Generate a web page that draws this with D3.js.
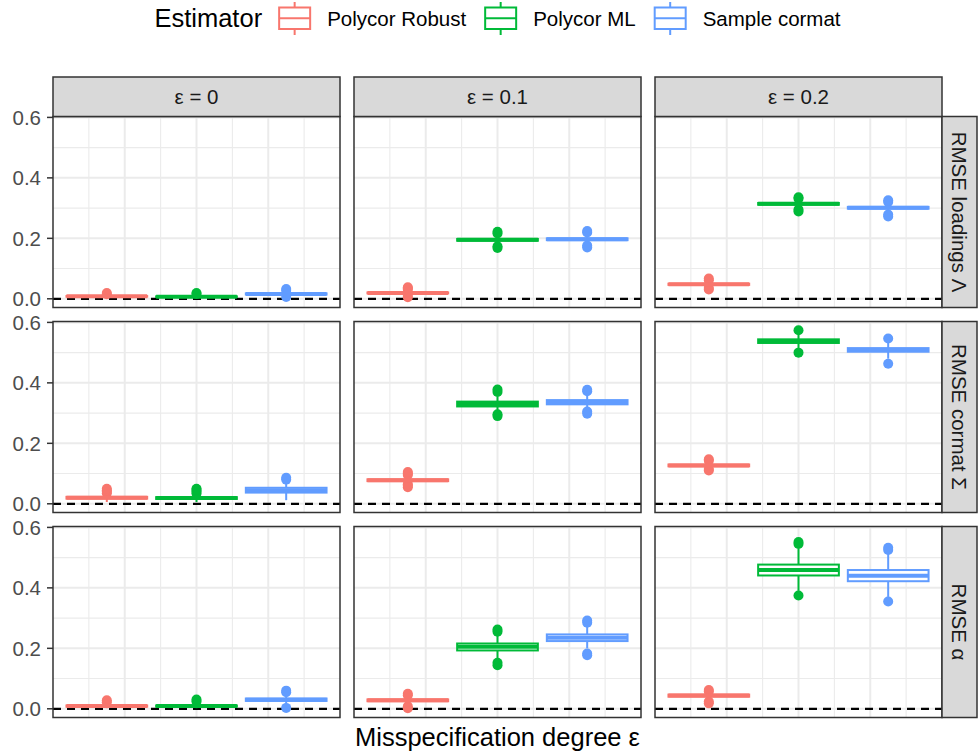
<!DOCTYPE html>
<html>
<head>
<meta charset="utf-8">
<script src="https://cdn.jsdelivr.net/npm/d3@7"></script>
<style>
  body { margin: 0; background: #fff; }
  text { font-family: "Liberation Sans", Arial, Helvetica, sans-serif; }
</style>
</head>
<body>
<svg id="chart" width="979" height="755"></svg>
<script>
// categories
const estimators = ["Polycor Robust", "Polycor ML", "Sample cormat"];
const estColors = ["#F8766D", "#00BA38", "#619CFF"];
const epsLabels = ["ε = 0", "ε = 0.1", "ε = 0.2"];
const measureLabels = ["RMSE loadings Λ", "RMSE cormat Σ", "RMSE α"];
const yTicks = [0, 0.2, 0.4, 0.6];
const yMinor = [0.1, 0.3, 0.5];

// box stats [lowWhisker, q1, median, q3, highWhisker], indexed [eps][estimator]
const loadingsStats = [
  [[0.004, 0.007, 0.008, 0.009, 0.012], [0.004, 0.006, 0.007, 0.008, 0.011], [0.010, 0.014, 0.016, 0.018, 0.022]],
  [[0.012, 0.018, 0.019, 0.021, 0.027], [0.184, 0.192, 0.195, 0.198, 0.206], [0.187, 0.194, 0.197, 0.200, 0.208]],
  [[0.040, 0.046, 0.048, 0.050, 0.056], [0.302, 0.311, 0.314, 0.317, 0.325], [0.288, 0.298, 0.301, 0.304, 0.313]]
];
const loadingsOutliers = [
  [[0.015, 0.019], [0.016, 0.019], [0.006, 0.027, 0.032]],
  [[0.005, 0.009, 0.030, 0.035, 0.038], [0.168, 0.174, 0.216, 0.222], [0.170, 0.176, 0.219, 0.224]],
  [[0.031, 0.036, 0.061, 0.067], [0.289, 0.295, 0.331, 0.336], [0.272, 0.279, 0.320, 0.326]]
];

const cormatStats = [
  [[0.006, 0.017, 0.020, 0.023, 0.030], [0.006, 0.016, 0.019, 0.022, 0.029], [0.012, 0.037, 0.045, 0.053, 0.068]],
  [[0.068, 0.075, 0.078, 0.081, 0.090], [0.305, 0.322, 0.330, 0.338, 0.355], [0.315, 0.329, 0.336, 0.343, 0.360]],
  [[0.118, 0.124, 0.127, 0.130, 0.137], [0.515, 0.532, 0.538, 0.544, 0.560], [0.480, 0.503, 0.509, 0.515, 0.535]]
];
const cormatOutliers = [
  [[0.035, 0.040, 0.045, 0.050], [0.034, 0.040, 0.046, 0.050], [0.080, 0.086]],
  [[0.055, 0.060, 0.065, 0.095, 0.100, 0.105], [0.290, 0.296, 0.370, 0.378], [0.298, 0.305, 0.372, 0.377]],
  [[0.110, 0.115, 0.142, 0.147], [0.500, 0.574], [0.463, 0.547]]
];

const alphaStats = [
  [[0.002, 0.007, 0.009, 0.011, 0.016], [0.002, 0.007, 0.009, 0.011, 0.016], [0.012, 0.026, 0.030, 0.034, 0.045]],
  [[0.015, 0.025, 0.028, 0.031, 0.040], [0.165, 0.193, 0.205, 0.216, 0.245], [0.200, 0.224, 0.235, 0.246, 0.272]],
  [[0.032, 0.040, 0.044, 0.047, 0.052], [0.390, 0.441, 0.459, 0.477, 0.530], [0.370, 0.422, 0.440, 0.459, 0.512]]
];
const alphaOutliers = [
  [[0.022, 0.028], [0.024, 0.031], [0.003, 0.055, 0.060]],
  [[0.002, 0.008, 0.045, 0.050], [0.144, 0.152, 0.255, 0.262], [0.177, 0.183, 0.285, 0.292]],
  [[0.018, 0.024, 0.057, 0.062], [0.375, 0.545, 0.552], [0.355, 0.525, 0.533]]
];

const allStats = [loadingsStats, cormatStats, alphaStats];
const allOutliers = [loadingsOutliers, cormatOutliers, alphaOutliers];

// layout
const leftX = 53, topY = 116.5, pw = 287, ph = 191, gapX = 14, gapY = 14;
const stripH = 39.5, stripW = 35;
const smallFont = 20.5, bigFont = 25.5;
const colLeft = i => leftX + i * (pw + gapX);
const rowTop = i => topY + i * (ph + gapY);

const svg = d3.select("#chart");
svg.append("rect").attr("width", 979).attr("height", 755).attr("fill", "#fff");

const x = d3.scaleLinear().domain([-0.4, 0.4]).range([0, pw]);
const dodge = d3.scaleBand().domain(estimators).range([-0.375, 0.375]);
const boxHalf = (x(dodge.bandwidth() * 0.9) - x(0)) / 2;
const y = d3.scaleLinear().domain([-0.0288, 0.603]).range([ph, 0]);
const color = d3.scaleOrdinal().domain(estimators).range(estColors);
const xMajor = [-0.2, 0, 0.2], xMinor = [-0.3, -0.1, 0.1, 0.3];

measureLabels.forEach((m, r) => {
  epsLabels.forEach((e, c) => {
    const g = svg.append("g").attr("transform", `translate(${colLeft(c)},${rowTop(r)})`);
    g.append("rect").attr("width", pw).attr("height", ph).attr("fill", "#fff");

    // grid
    g.selectAll(".vmin").data(xMinor).enter().append("line")
      .attr("x1", d => x(d)).attr("x2", d => x(d)).attr("y1", 0).attr("y2", ph)
      .attr("stroke", "#ebebeb").attr("stroke-width", 1.1);
    g.selectAll(".hmin").data(yMinor).enter().append("line")
      .attr("x1", 0).attr("x2", pw).attr("y1", d => y(d)).attr("y2", d => y(d))
      .attr("stroke", "#ebebeb").attr("stroke-width", 1.1);
    g.selectAll(".vmaj").data(xMajor).enter().append("line")
      .attr("x1", d => x(d)).attr("x2", d => x(d)).attr("y1", 0).attr("y2", ph)
      .attr("stroke", "#ebebeb").attr("stroke-width", 2);
    g.selectAll(".hmaj").data(yTicks).enter().append("line")
      .attr("x1", 0).attr("x2", pw).attr("y1", d => y(d)).attr("y2", d => y(d))
      .attr("stroke", "#ebebeb").attr("stroke-width", 2);

    // reference line at zero
    g.append("line").attr("x1", 0).attr("x2", pw).attr("y1", y(0)).attr("y2", y(0))
      .attr("stroke", "#000").attr("stroke-width", 2.2).attr("stroke-dasharray", "8,6");

    // boxplots
    estimators.forEach((est, k) => {
      const s = allStats[r][c][k];
      const cx = x(dodge(est) + dodge.bandwidth() / 2);
      const col = color(est);
      const bg = g.append("g");
      bg.append("line").attr("x1", cx).attr("x2", cx).attr("y1", y(s[3])).attr("y2", y(s[4]))
        .attr("stroke", col).attr("stroke-width", 2);
      bg.append("line").attr("x1", cx).attr("x2", cx).attr("y1", y(s[1])).attr("y2", y(s[0]))
        .attr("stroke", col).attr("stroke-width", 2);
      bg.selectAll("circle").data(allOutliers[r][c][k]).enter().append("circle")
        .attr("cx", cx).attr("cy", d => y(d)).attr("r", 5).attr("fill", col);
      bg.append("rect").attr("x", cx - boxHalf).attr("width", boxHalf * 2)
        .attr("y", y(s[3])).attr("height", Math.max(0.5, y(s[1]) - y(s[3])))
        .attr("fill", "#fff").attr("stroke", col).attr("stroke-width", 2);
      bg.append("line").attr("x1", cx - boxHalf).attr("x2", cx + boxHalf)
        .attr("y1", y(s[2])).attr("y2", y(s[2]))
        .attr("stroke", col).attr("stroke-width", 4);
    });

    g.append("rect").attr("width", pw).attr("height", ph).attr("fill", "none")
      .attr("stroke", "#333").attr("stroke-width", 1.5);
  });

  // y axis for the row
  const ax = svg.append("g").attr("transform", `translate(${leftX},${rowTop(r)})`);
  ax.selectAll("line").data(yTicks).enter().append("line")
    .attr("x1", -6).attr("x2", 0).attr("y1", d => y(d)).attr("y2", d => y(d))
    .attr("stroke", "#333").attr("stroke-width", 1.5);
  ax.selectAll("text").data(yTicks).enter().append("text")
    .attr("x", -12).attr("y", d => y(d)).attr("dy", "0.36em")
    .attr("text-anchor", "end").attr("font-size", smallFont).attr("fill", "#4d4d4d")
    .text(d => d3.format(".1f")(d));

  // right strip
  const rx = colLeft(2) + pw;
  svg.append("rect").attr("x", rx).attr("y", rowTop(r)).attr("width", stripW).attr("height", ph)
    .attr("fill", "#d9d9d9").attr("stroke", "#333").attr("stroke-width", 1.5);
  svg.append("text")
    .attr("transform", `translate(${rx + stripW / 2},${rowTop(r) + ph / 2}) rotate(90)`)
    .attr("text-anchor", "middle").attr("dy", "0.36em")
    .attr("font-size", smallFont).attr("fill", "#1a1a1a").text(m);
});

// top strips
epsLabels.forEach((e, c) => {
  svg.append("rect").attr("x", colLeft(c)).attr("y", topY - stripH).attr("width", pw).attr("height", stripH)
    .attr("fill", "#d9d9d9").attr("stroke", "#333").attr("stroke-width", 1.5);
  svg.append("text").attr("x", colLeft(c) + pw / 2).attr("y", topY - stripH / 2).attr("dy", "0.36em")
    .attr("text-anchor", "middle").attr("font-size", smallFont).attr("fill", "#1a1a1a").text(e);
});

// x axis title
const midX = (leftX + colLeft(2) + pw) / 2;
svg.append("text").attr("x", midX).attr("y", 746).attr("text-anchor", "middle")
  .attr("font-size", bigFont).attr("fill", "#000").text("Misspecification degree ε");

// legend
const leg = svg.append("g");
const legTitle = leg.append("text").attr("y", 27).attr("font-size", bigFont).attr("fill", "#000").text("Estimator");
const titleW = legTitle.node().getComputedTextLength();
const keyW = 33;
const items = estimators.map(est => {
  const t = leg.append("text").attr("y", 26).attr("font-size", smallFont).attr("fill", "#000").text(est);
  return { est, t, w: t.node().getComputedTextLength() };
});
const totalW = titleW + 16 + d3.sum(items, d => keyW + 16 + d.w) + 18 * (items.length - 1);
let cur = midX - totalW / 2;
legTitle.attr("x", cur);
cur += titleW + 16;
items.forEach(d => {
  const col = color(d.est);
  const kx = cur, kc = kx + keyW / 2;
  leg.append("line").attr("x1", kc).attr("x2", kc).attr("y1", 2).attr("y2", 35)
    .attr("stroke", col).attr("stroke-width", 2);
  leg.append("rect").attr("x", kx + 1).attr("y", 7.5).attr("width", keyW - 2).attr("height", 21.5)
    .attr("fill", "#fff").attr("stroke", col).attr("stroke-width", 2);
  leg.append("line").attr("x1", kx + 1).attr("x2", kx + keyW - 1).attr("y1", 18.25).attr("y2", 18.25)
    .attr("stroke", col).attr("stroke-width", 2);
  d.t.attr("x", kx + keyW + 16);
  cur = kx + keyW + 16 + d.w + 18;
});
</script>
</body>
</html>
